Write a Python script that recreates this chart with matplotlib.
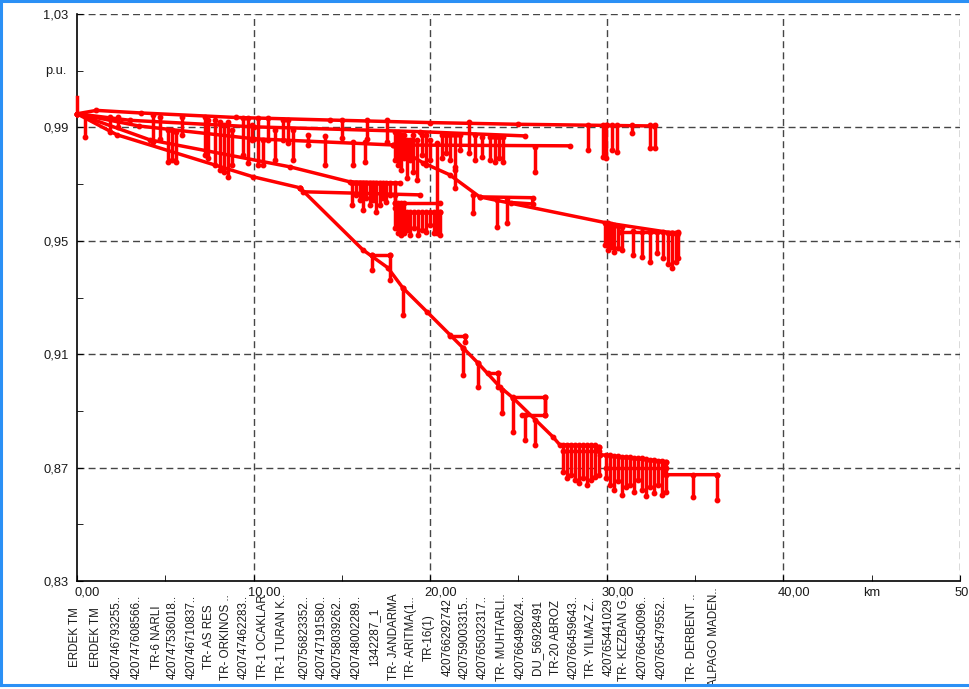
import matplotlib
matplotlib.use("Agg")
import matplotlib.pyplot as plt
from matplotlib.lines import Line2D
from matplotlib.transforms import blended_transform_factory

plt.rcParams['font.family'] = ['Liberation Sans', 'DejaVu Sans']

RED = '#ff0000'
LW = 2.5
MS = 3.2
TXT = '#1a1a1a'

# ---- main feeders: distance from source (km) and voltage (p.u.) ----
source_km = [0.0, 0.0]
source_pu = [1.0007, 0.9948]

feeder_top_km = [0.0, 1.1, 3.6, 9.0, 14.3, 20.0, 25.0, 30.0, 32.7]
feeder_top_pu = [0.9948, 0.9960, 0.9951, 0.9935, 0.9926, 0.9917, 0.9911, 0.9907, 0.9905]

feeder_2_km = [0.0, 3.0, 10.0, 19.4, 25.35]
feeder_2_pu = [0.9948, 0.9925, 0.9902, 0.9885, 0.9870]

feeder_3_km = [0.0, 3.5, 10.0, 17.9, 27.9]
feeder_3_pu = [0.9948, 0.9905, 0.9860, 0.9838, 0.9835]

feeder_4_km = [17.9, 19.6, 21.1, 22.8, 30.0, 33.7, 34.0]
feeder_4_pu = [0.9838, 0.9775, 0.9733, 0.9655, 0.9563, 0.9528, 0.9521]

feeder_5_km = [0.0, 2.26, 9.96, 12.62]
feeder_5_pu = [0.9948, 0.9874, 0.9726, 0.9687]

feeder_6_km = [0.0, 4.13, 12.05, 15.45, 18.28]
feeder_6_pu = [0.9948, 0.9856, 0.9761, 0.9708, 0.9704]

feeder_5a_km = [12.62, 12.79, 19.41]
feeder_5a_pu = [0.9687, 0.9673, 0.9662]

feeder_5b_km = [12.62, 16.19, 17.6, 18.45, 19.81, 21.11, 21.85, 22.69, 23.94,
                24.67, 26.94, 27.33, 29.54, 29.6, 33.33, 33.33, 36.22]
feeder_5b_pu = [0.9687, 0.9468, 0.9405, 0.9334, 0.9250, 0.9169, 0.9123, 0.9070, 0.8985,
                0.8947, 0.8809, 0.8781, 0.8774, 0.8746, 0.8721, 0.8675, 0.8675]

# ---- short laterals ----
lateral_km = [
    [22.8, 25.8, 25.8, 24.6],
    [18.0, 18.0, 20.54],
    [18.5, 18.5, 20.54],
    [16.69, 17.71],
    [21.11, 21.96],
    [23.26, 23.83],
    [24.67, 26.49, 26.49, 25.2],
    [30.73, 34.01],
    [29.94, 33.33],
    [27.5, 29.54],
]
lateral_pu = [
    [0.9655, 0.9652, 0.9630, 0.9635],
    [0.9662, 0.9634, 0.9634],
    [0.9634, 0.9602, 0.9602],
    [0.9451, 0.9451],
    [0.9165, 0.9165],
    [0.9035, 0.9035],
    [0.8950, 0.8950, 0.8887, 0.8887],
    [0.9532, 0.9532],
    [0.8700, 0.8700],
    [0.8760, 0.8760],
]

# ---- drop branches (km, upper p.u., lower p.u.) ----
upper_stub_km = [0.45, 1.87, 2.32, 4.30, 4.70, 5.15, 5.38, 5.60, 5.94, 7.24, 7.41, 7.81,
                 8.09, 8.32, 8.55, 8.77, 9.39, 9.68, 9.90, 10.24, 10.53, 10.81, 11.21,
                 11.66, 11.94, 12.22, 13.07, 14.04, 15.00, 15.62, 16.30, 16.40, 17.54,
                 18.00, 18.17, 18.34, 18.51, 18.68, 18.85, 19.02, 19.24, 19.52, 19.75,
                 19.98, 20.37, 20.66, 20.88, 21.11, 21.39, 21.68, 22.18, 22.52, 22.92,
                 23.37, 23.66, 23.88, 24.11, 25.92, 28.92, 29.77, 29.94, 30.28, 30.56,
                 31.41, 32.43, 32.71]
upper_stub_top = [0.9944, 0.9937, 0.9937, 0.9944, 0.9937, 0.9891, 0.9891, 0.9884, 0.9937,
                  0.9937, 0.9926, 0.9926, 0.9919, 0.9909, 0.9919, 0.9891, 0.9933, 0.9933,
                  0.9909, 0.9933, 0.9856, 0.9933, 0.9891, 0.9926, 0.9926, 0.9891, 0.9874,
                  0.9870, 0.9926, 0.9849, 0.9849, 0.9926, 0.9926, 0.9884, 0.9884, 0.9874,
                  0.9874, 0.9856, 0.9856, 0.9874, 0.9856, 0.9874, 0.9874, 0.9856, 0.9845,
                  0.9874, 0.9874, 0.9874, 0.9874, 0.9874, 0.9919, 0.9874, 0.9867, 0.9867,
                  0.9867, 0.9867, 0.9867, 0.9831, 0.9909, 0.9909, 0.9909, 0.9909, 0.9909,
                  0.9909, 0.9909, 0.9909]
upper_stub_bot = [0.9866, 0.9884, 0.9902, 0.9849, 0.9859, 0.9778, 0.9785, 0.9778, 0.9874,
                  0.9803, 0.9792, 0.9768, 0.9750, 0.9743, 0.9726, 0.9768, 0.9803, 0.9775,
                  0.9856, 0.9768, 0.9768, 0.9856, 0.9785, 0.9856, 0.9845, 0.9785, 0.9838,
                  0.9768, 0.9863, 0.9768, 0.9778, 0.9860, 0.9849, 0.9785, 0.9768, 0.9750,
                  0.9792, 0.9722, 0.9785, 0.9743, 0.9715, 0.9803, 0.9768, 0.9785, 0.9528,
                  0.9792, 0.9810, 0.9785, 0.9750, 0.9821, 0.9810, 0.9785, 0.9796, 0.9785,
                  0.9778, 0.9792, 0.9778, 0.9743, 0.9821, 0.9796, 0.9792, 0.9821, 0.9814,
                  0.9881, 0.9828, 0.9828]

cluster_a_km = [15.56, 15.79, 16.02, 16.19, 16.36, 16.58, 16.75, 16.92, 17.15, 17.32,
                17.49, 17.71, 18.00]
cluster_a_top = [0.9704] * 13
cluster_a_bot = [0.9627, 0.9662, 0.9645, 0.9609, 0.9652, 0.9627, 0.9645, 0.9602, 0.9627,
                 0.9652, 0.9637, 0.9662, 0.9616]

cluster_b_km = [18.00, 18.17, 18.34, 18.51, 18.68, 18.85, 19.07, 19.30, 19.52, 19.75,
                19.98, 20.20, 20.54]
cluster_b_top = [0.9634, 0.9634, 0.9634, 0.9602, 0.9602, 0.9602, 0.9602, 0.9602, 0.9602,
                 0.9602, 0.9602, 0.9602, 0.9602]
cluster_b_bot = [0.9546, 0.9528, 0.9521, 0.9528, 0.9539, 0.9521, 0.9546, 0.9521, 0.9539,
                 0.9532, 0.9556, 0.9528, 0.9521]

mid_stub_km = [21.39, 22.41, 23.77, 24.34, 29.88, 30.05, 30.22, 30.39, 30.62, 30.84,
               31.47, 31.98, 32.43, 32.82, 33.16, 33.45, 33.67, 33.90, 34.01]
mid_stub_top = [0.9761, 0.9662, 0.9645, 0.9645, 0.9563, 0.9563, 0.9560, 0.9556, 0.9553,
                0.9549, 0.9535, 0.9532, 0.9532, 0.9532, 0.9532, 0.9528, 0.9528, 0.9528,
                0.9528]
mid_stub_bot = [0.9687, 0.9599, 0.9549, 0.9563, 0.9486, 0.9468, 0.9479, 0.9461, 0.9475,
                0.9468, 0.9451, 0.9444, 0.9426, 0.9458, 0.9440, 0.9419, 0.9405, 0.9426,
                0.9440]

low_stub_km = [16.69, 17.71, 18.45, 21.96, 21.85, 22.69, 23.83, 24.05, 24.67, 26.49,
               25.35, 25.92,
               27.50, 27.73, 27.96, 28.18, 28.41, 28.64, 28.86, 29.09, 29.32, 29.54,
               29.94, 30.16, 30.39, 30.62, 30.84, 31.07, 31.30, 31.52, 31.75, 31.98,
               32.20, 32.43, 32.65, 32.88, 33.11, 33.33, 34.86, 36.22]
low_stub_top = [0.9451, 0.9451, 0.9334, 0.9165, 0.9123, 0.9070, 0.9035, 0.8975, 0.8947,
                0.8950, 0.8887, 0.8869,
                0.8781, 0.8781, 0.8781, 0.8781, 0.8781, 0.8781, 0.8778, 0.8778, 0.8778,
                0.8774, 0.8746, 0.8746, 0.8742, 0.8742, 0.8739, 0.8739, 0.8739, 0.8735,
                0.8735, 0.8735, 0.8732, 0.8728, 0.8728, 0.8725, 0.8725, 0.8721, 0.8675,
                0.8675]
low_stub_bot = [0.9398, 0.9363, 0.9239, 0.9144, 0.9028, 0.8985, 0.8985, 0.8894, 0.8827,
                0.8887, 0.8799, 0.8781,
                0.8686, 0.8665, 0.8675, 0.8658, 0.8647, 0.8665, 0.8640, 0.8658, 0.8668,
                0.8675, 0.8665, 0.8640, 0.8622, 0.8651, 0.8605, 0.8630, 0.8640, 0.8615,
                0.8658, 0.8622, 0.8601, 0.8630, 0.8612, 0.8640, 0.8605, 0.8615, 0.8598,
                0.8587]

# ---- bus names along the distance axis ----
bus_km = [-0.1, 1.08, 2.26, 3.40, 4.53, 5.43, 6.51, 7.47, 8.43, 9.45, 10.53, 11.60,
          12.90, 13.87, 14.77, 15.85, 16.86, 17.94, 18.90, 19.92, 21.00, 21.96, 22.98,
          24.05, 25.13, 26.03, 27.11, 28.13, 29.09, 30.11, 30.96, 32.03, 33.11, 34.80,
          36.05]
bus_names = ["ERDEK TM", "ERDEK TM", "420746793255..", "420747608566..", "TR-6 NARLI",
             "420747536018..", "420746710837..", "TR- AS RES", "TR- ORKINOS ..",
             "420747462283..", "TR-1 OCAKLAR", "TR-1 TURAN K..", "420756823352..",
             "420747191580..", "420758039262..", "420748002289..", "1342287_1",
             "TR- JANDARMA", "TR- ARITMA(1..", "TR-16(1)", "420766292742",
             "420759003315..", "420765032317..", "TR- MUHTARLI..", "420766498024..",
             "DU_56928491", "TR-20 ABROZ", "420766459643..", "TR- YILMAZ Z..",
             "420765441029", "TR- KEZBAN G..", "420766450096..", "420765479552..",
             "TR- DERBENT ..", "ALPAGO MADEN.."]

x_ticks = [0, 10, 20, 30, 40, 50]
x_tick_labels = ["0,00", "10,00", "20,00", "30,00", "40,00", "50,00"]
y_ticks = [0.83, 0.87, 0.91, 0.95, 0.99, 1.03]
y_tick_labels = ["0,83", "0,87", "0,91", "0,95", "0,99", "1,03"]

fig = plt.figure(figsize=(9.7, 6.89), dpi=100)
ax = fig.add_axes([77 / 970, 1 - 581 / 689, 883 / 970, 567 / 689])
ax.set_xlim(0, 50)
ax.set_ylim(0.83, 1.03)

for s in ['top', 'right']:
    ax.spines[s].set_visible(False)
for s in ['left', 'bottom']:
    ax.spines[s].set_color('black')
    ax.spines[s].set_linewidth(1.2)

ax.set_xticks(x_ticks)
ax.set_xticklabels([])
ax.set_xticks([5, 15, 25, 35, 45], minor=True)
ax.set_yticks(y_ticks)
ax.set_yticklabels(y_tick_labels, fontsize=9.3, color=TXT)
ax.set_yticks([0.85, 0.89, 0.93, 0.97, 1.01], minor=True)
ax.tick_params(axis='both', which='both', direction='in', length=4, color='black')
ax.tick_params(axis='y', which='major', pad=6)

ax.set_axisbelow(True)
for x in x_ticks[1:]:
    ax.axvline(x, color='#454545', lw=1.0, dashes=(5, 3), zorder=0)
for y in y_ticks[1:]:
    ax.axhline(y, color='#454545', lw=1.0, dashes=(5, 3), zorder=0)

ax.text(-0.012, 1.01, "p.u.", transform=blended_transform_factory(ax.transAxes, ax.transData),
        ha='right', va='center', fontsize=9.3, color=TXT)

trans = blended_transform_factory(ax.transData, ax.transAxes)
for x, lab in zip(x_ticks, x_tick_labels):
    ax.text(x + 0.6, -0.021, lab, transform=trans, ha='center', va='center',
            fontsize=9.3, color=TXT, clip_on=False)
ax.text(45, -0.021, "km", transform=trans, ha='center', va='center', fontsize=9.3,
        color=TXT, clip_on=False)

for x, name in zip(bus_km, bus_names):
    ax.text(x, -0.099, name, transform=trans, rotation=90, ha='center', va='center',
            fontsize=8.4, color=TXT, clip_on=False)

style = dict(color=RED, lw=LW, marker='o', ms=MS, clip_on=False,
             solid_joinstyle='round', solid_capstyle='round', zorder=3)

ax.plot(source_km, source_pu, color=RED, lw=LW, clip_on=False, zorder=3)
for xs, ys in [(feeder_top_km, feeder_top_pu), (feeder_2_km, feeder_2_pu),
               (feeder_3_km, feeder_3_pu), (feeder_4_km, feeder_4_pu),
               (feeder_5_km, feeder_5_pu), (feeder_6_km, feeder_6_pu),
               (feeder_5a_km, feeder_5a_pu), (feeder_5b_km, feeder_5b_pu)]:
    ax.plot(xs, ys, **style)

for xs, ys in zip(lateral_km, lateral_pu):
    ax.plot(xs, ys, **style)

for kms, tops, bots in [(upper_stub_km, upper_stub_top, upper_stub_bot),
                        (cluster_a_km, cluster_a_top, cluster_a_bot),
                        (cluster_b_km, cluster_b_top, cluster_b_bot),
                        (mid_stub_km, mid_stub_top, mid_stub_bot),
                        (low_stub_km, low_stub_top, low_stub_bot)]:
    for x, t, b in zip(kms, tops, bots):
        ax.plot([x, x], [t, b], **style)

# outer frame
frame_color = '#2b90f5'
fig.add_artist(Line2D([0, 1], [0.9985, 0.9985], transform=fig.transFigure,
                      color=frame_color, lw=2.2))
fig.add_artist(Line2D([0.0015, 0.0015], [0.006, 1], transform=fig.transFigure,
                      color=frame_color, lw=2.2))
fig.add_artist(Line2D([0, 1], [0.006, 0.006], transform=fig.transFigure,
                      color=frame_color, lw=2.2))

fig.savefig("out.png", dpi=100, facecolor='white')
